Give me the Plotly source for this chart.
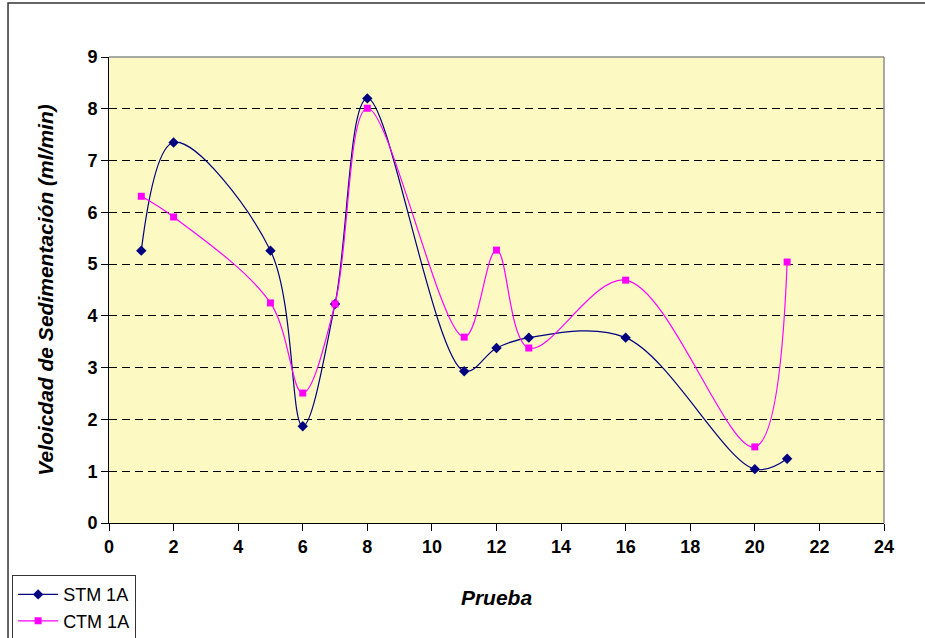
import plotly.graph_objects as go

prueba = [1, 2, 5, 6, 7, 8, 11, 12, 13, 16, 20, 21]
stm_1a = [5.26, 7.35, 5.26, 1.87, 4.23, 8.20, 2.93, 3.38, 3.58, 3.58, 1.04, 1.24]
ctm_1a = [6.31, 5.91, 4.25, 2.51, 4.23, 8.01, 3.59, 5.27, 3.38, 4.69, 1.47, 5.04]
x_ticks = list(range(0, 25, 2))
y_ticks = list(range(0, 10))

FONT = "Arial, Liberation Sans, sans-serif"

fig = go.Figure()
fig.add_trace(go.Scatter(
    x=prueba, y=stm_1a, name="STM 1A", mode="lines+markers",
    line=dict(color="#000080", width=1.2, shape="spline", smoothing=1.0),
    marker=dict(symbol="diamond", size=8, color="#000080"),
))
fig.add_trace(go.Scatter(
    x=prueba, y=ctm_1a, name="CTM 1A", mode="lines+markers",
    line=dict(color="#FF00FF", width=1.2, shape="spline", smoothing=1.0),
    marker=dict(symbol="square", size=7, color="#FF00FF"),
))

fig.update_layout(
    width=925, height=638,
    margin=dict(l=109, r=41, t=57, b=115, autoexpand=False),
    paper_bgcolor="white",
    plot_bgcolor="#FCFAC2",
    font=dict(family=FONT, color="black"),
    showlegend=True,
    legend=dict(
        x=-0.125, y=-0.112, xanchor="left", yanchor="top",
        bordercolor="#333333", borderwidth=1, bgcolor="white",
        font=dict(family=FONT, size=18, color="black"),
        tracegroupgap=0, itemwidth=40,
    ),
    xaxis=dict(
        range=[0, 24], tickvals=x_ticks, showgrid=False, zeroline=False,
        showline=True, linecolor="black", linewidth=1, automargin=False,
        ticks="outside", ticklen=7, tickcolor="black",
        tickfont=dict(family=FONT, size=18, color="black", weight="bold"),
        title=dict(text="<b><i>Prueba</i></b>", font=dict(family=FONT, size=21), standoff=34),
    ),
    yaxis=dict(
        range=[0, 9], tickvals=y_ticks, showgrid=True, gridcolor="black",
        gridwidth=1, griddash="8px,5px", zeroline=False,
        showline=True, linecolor="black", linewidth=1, automargin=False,
        ticks="outside", ticklen=7, tickcolor="black",
        tickfont=dict(family=FONT, size=18, color="black", weight="bold"),
        title=dict(text="<b><i>Veloicdad de Sedimentación (ml/min)</i></b>",
                   font=dict(family=FONT, size=21), standoff=28),
    ),
    shapes=[
        dict(type="line", xref="paper", yref="paper", x0=0, x1=1, y0=1, y1=1,
             line=dict(color="#8C8C8C", width=1.5), layer="above"),
        dict(type="line", xref="paper", yref="paper", x0=1, x1=1, y0=0, y1=1,
             line=dict(color="#8C8C8C", width=1.5), layer="above"),
        dict(type="rect", xref="paper", yref="paper", x0=-0.1303, x1=1.08,
             y0=-0.3, y1=1.1159, line=dict(color="#333333", width=1.5),
             layer="below", fillcolor="rgba(0,0,0,0)"),
    ],
)

fig.write_html("out.html")
